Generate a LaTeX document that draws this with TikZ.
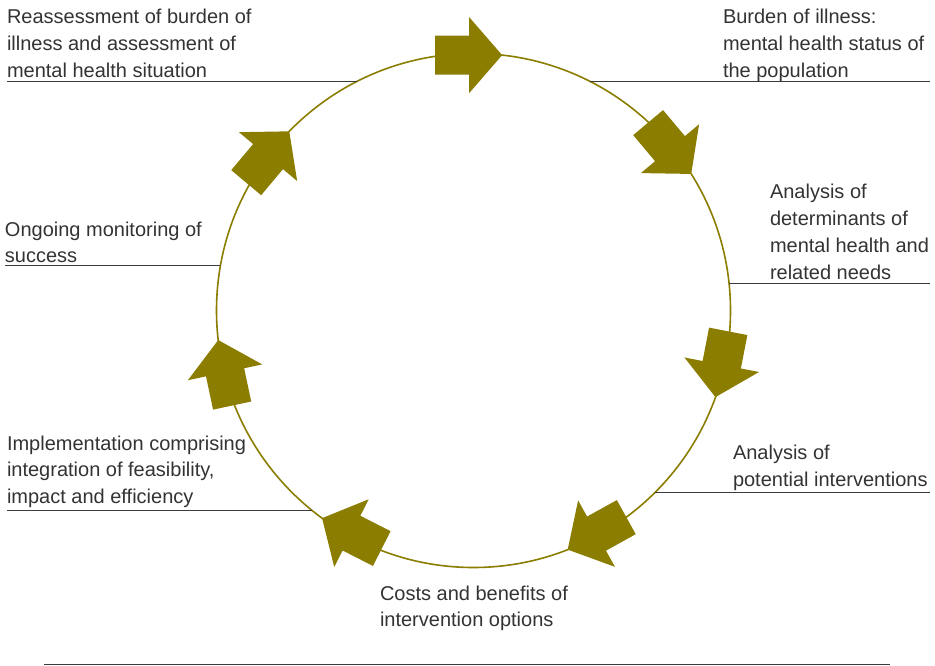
\documentclass[tikz,border=0pt]{standalone}
\usepackage{fontspec}
\setmainfont{Liberation Sans}

\definecolor{cycleolive}{RGB}{138,125,0}
\definecolor{leadgray}{RGB}{60,60,60}

\tikzset{
  stage/.style={anchor=base west, align=left, inner sep=0pt, outer sep=0pt,
    text=black!80, font=\fontsize{20}{26.8}\selectfont},
  leader/.style={draw=leadgray, line width=1.1pt},
  blockarrow/.style={fill=cycleolive},
}

\begin{document}
\begin{tikzpicture}[x=1pt, y=1pt]
\useasboundingbox (0,0) rectangle (935,-666);

\node[circle, draw=cycleolive, line width=1.6pt, minimum size=514pt,
  inner sep=0pt, outer sep=0pt] (ring) at (473.5,-310.5) {};

% seven block arrows round the cycle (tip angle / turn)
\foreach \ang/\rot in {83.6/0, 32.1/-50, -19.7/-101, -68.5/-151,
    -126.1/-207, -173.4/-258, 135.8/-310}{
  \fill[blockarrow, shift={(ring.center)}, shift={(\ang:257)}, rotate=\rot]
    (0,0) -- (-33,38) -- (-33,19.5) -- (-67,19.5) -- (-67,-19.5)
    -- (-33,-19.5) -- (-33,-38) -- cycle;
}

% base anchor = last line
\node[stage] (reassess) at (7,-77.6) {Reassessment of burden of\\illness and assessment of\\mental health situation};
\node[stage] (burden) at (723,-77.6) {Burden of illness:\\mental health status of\\the population};
\node[stage] (determ) at (770,-279) {Analysis of\\determinants of\\mental health and\\related needs};
\node[stage] (interv) at (733,-486) {Analysis of\\potential interventions};
\node[stage] (costs) at (380,-626.8) {Costs and benefits of\\intervention options};
\node[stage] (implem) at (7,-503.6) {Implementation comprising\\integration of feasibility,\\impact and efficiency};
\node[stage] (monitor) at (5,-262.8) {Ongoing monitoring of\\success};

% leader lines
\coordinate (rim) at (930,0);
\draw[leader] (ring.63) -- (ring.63 -| rim);
\draw[leader] (ring.6) -- (ring.6 -| rim);
\draw[leader] (ring.315) -- (ring.315 -| rim);
\draw[leader] (ring.117) -- (ring.117 -| reassess.west);
\draw[leader] (ring.170) -- (ring.170 -| monitor.west);
\draw[leader] (ring.231) -- (ring.231 -| implem.west);

\draw[leadgray, line width=1.6pt] (44,-664.5) -- (890,-664.5);
\end{tikzpicture}
\end{document}
